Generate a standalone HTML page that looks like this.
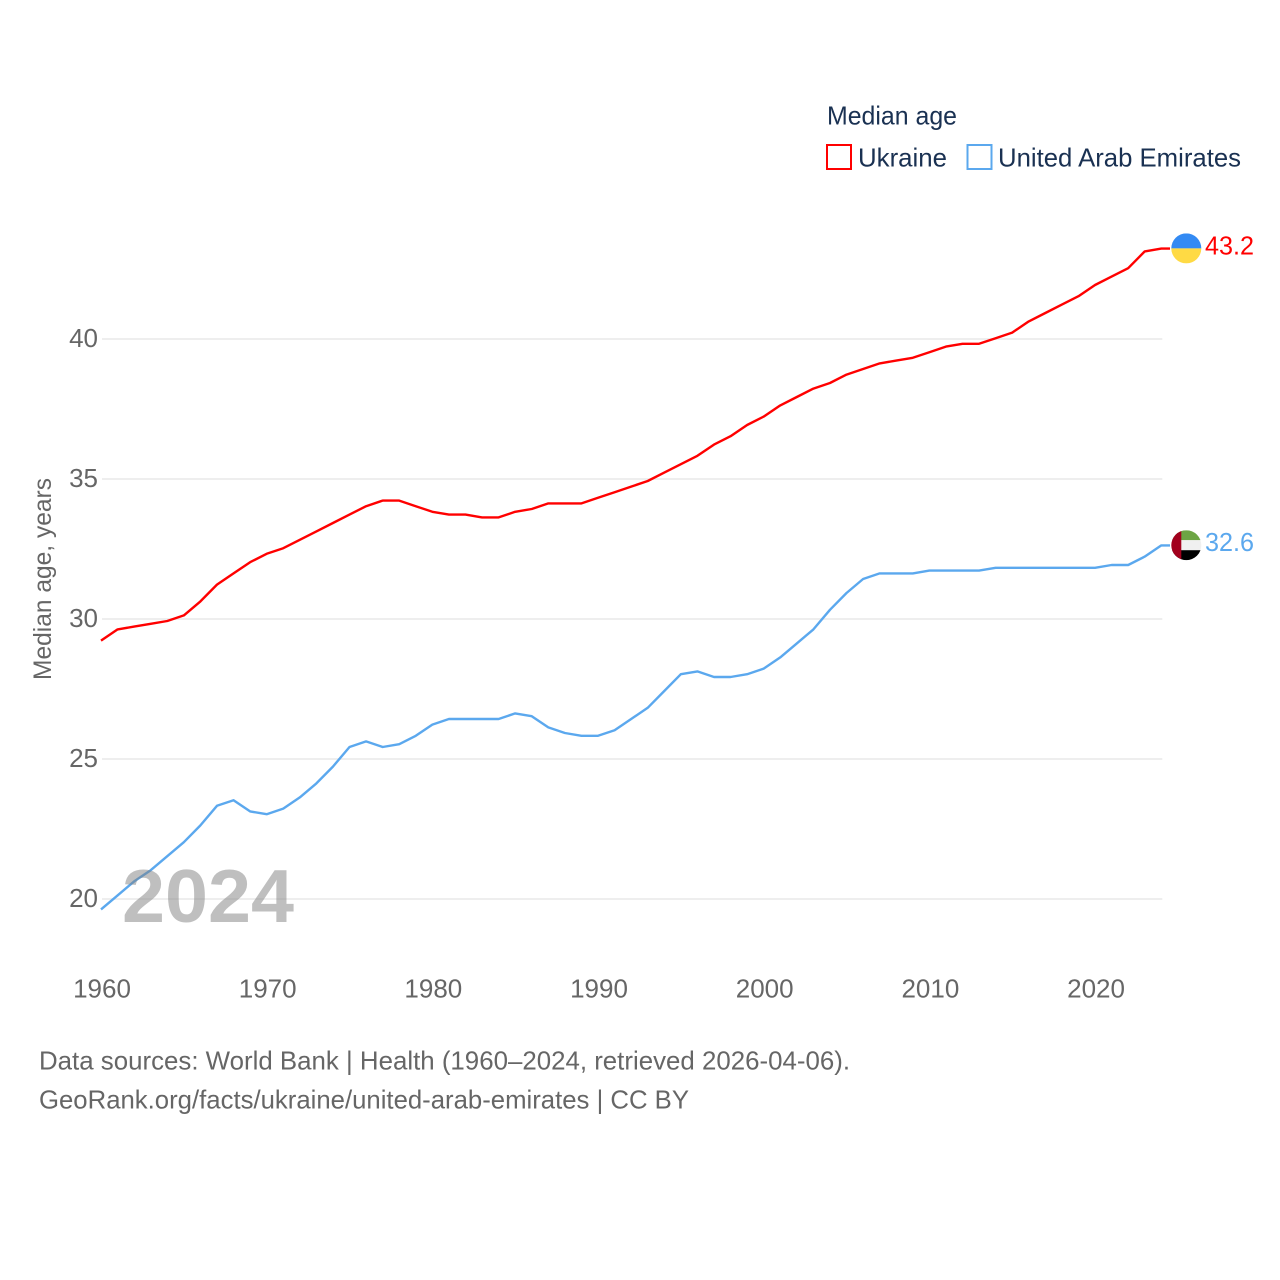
<!DOCTYPE html>
<html lang="en">
<head>
<meta charset="utf-8">
<title>Median age: Ukraine and United Arab Emirates</title>
<style>
html,body{margin:0;padding:0;background:#fff;}
svg{display:block;font-family:"Liberation Sans",sans-serif;}
</style>
</head>
<body>
<svg id="chart" xmlns="http://www.w3.org/2000/svg" width="1280" height="1280" viewBox="0 0 1280 1280">
  <rect x="0" y="0" width="1280" height="1280" fill="#ffffff"/>
  <defs>
    <clipPath id="flag-clip-ua"><circle id="clip-ua" cx="1186.3" cy="248" r="15"/></clipPath>
    <clipPath id="flag-clip-ae"><circle id="clip-ae" cx="1186.3" cy="545" r="15"/></clipPath>
  </defs>
  <g id="grid"></g>
  <g id="yticks"></g>
  <g id="xticks"></g>
  <g id="lines" transform="translate(-1,-0.8)"></g>
  <g id="ends"></g>

  <text transform="translate(51,579) rotate(-90)" text-anchor="middle" font-size="25" fill="#666666" textLength="202" lengthAdjust="spacingAndGlyphs">Median age, years</text>

  <text x="122" y="922" font-size="75" font-weight="bold" fill="rgba(128,128,128,0.5)" textLength="172" lengthAdjust="spacingAndGlyphs">2024</text>

  <g>
    <text x="827" y="124.5" font-size="26" fill="#1a3152" textLength="130" lengthAdjust="spacingAndGlyphs">Median age</text>
    <rect x="827" y="145" width="24" height="24" fill="#ffffff" stroke="#ff0000" stroke-width="2"/>
    <text x="858" y="166.5" font-size="26" fill="#1a3152" textLength="89" lengthAdjust="spacingAndGlyphs">Ukraine</text>
    <rect x="967.5" y="145" width="24" height="24" fill="#ffffff" stroke="#5ba8ee" stroke-width="2"/>
    <text x="998" y="166.5" font-size="26" fill="#1a3152" textLength="243" lengthAdjust="spacingAndGlyphs">United Arab Emirates</text>
  </g>

  <text x="39" y="1069.5" font-size="26" fill="#666666" textLength="811" lengthAdjust="spacingAndGlyphs">Data sources: World Bank | Health (1960–2024, retrieved 2026-04-06).</text>
  <text x="39" y="1108.5" font-size="26" fill="#666666" textLength="650" lengthAdjust="spacingAndGlyphs">GeoRank.org/facts/ukraine/united-arab-emirates | CC BY</text>
</svg>
<script>
const years = [1960,1961,1962,1963,1964,1965,1966,1967,1968,1969,1970,1971,1972,1973,1974,1975,1976,1977,1978,1979,1980,1981,1982,1983,1984,1985,1986,1987,1988,1989,1990,1991,1992,1993,1994,1995,1996,1997,1998,1999,2000,2001,2002,2003,2004,2005,2006,2007,2008,2009,2010,2011,2012,2013,2014,2015,2016,2017,2018,2019,2020,2021,2022,2023,2024];
const ukraineValues = [29.2,29.6,29.7,29.8,29.9,30.1,30.6,31.2,31.6,32.0,32.3,32.5,32.8,33.1,33.4,33.7,34.0,34.2,34.2,34.0,33.8,33.7,33.7,33.6,33.6,33.8,33.9,34.1,34.1,34.1,34.3,34.5,34.7,34.9,35.2,35.5,35.8,36.2,36.5,36.9,37.2,37.6,37.9,38.2,38.4,38.7,38.9,39.1,39.2,39.3,39.5,39.7,39.8,39.8,40.0,40.2,40.6,40.9,41.2,41.5,41.9,42.2,42.5,43.1,43.2];
const uaeValues = [19.6,20.1,20.6,21.0,21.5,22.0,22.6,23.3,23.5,23.1,23.0,23.2,23.6,24.1,24.7,25.4,25.6,25.4,25.5,25.8,26.2,26.4,26.4,26.4,26.4,26.6,26.5,26.1,25.9,25.8,25.8,26.0,26.4,26.8,27.4,28.0,28.1,27.9,27.9,28.0,28.2,28.6,29.1,29.6,30.3,30.9,31.4,31.6,31.6,31.6,31.7,31.7,31.7,31.7,31.8,31.8,31.8,31.8,31.8,31.8,31.8,31.9,31.9,32.2,32.6];
const yTickValues = [20,25,30,35,40];
const xTickValues = [1960,1970,1980,1990,2000,2010,2020];

const NS = 'http://www.w3.org/2000/svg';
const xScale = function (year) { return 102 + (year - 1960) * (1060.3 / 64); };
const yScale = function (value) { return 899 - (value - 20) * 28; };
const node = function (parent, tag) {
  const el = document.createElementNS(NS, tag);
  parent.appendChild(el);
  return el;
};

const gridGroup = document.getElementById('grid');
const yTickGroup = document.getElementById('yticks');
yTickValues.forEach(function (tick) {
  const gridLine = node(gridGroup, 'line');
  
  
  gridLine.setAttribute('x1', xScale(1960));
  gridLine.setAttribute('x2', xScale(2024));
  gridLine.setAttribute('y1', yScale(tick));
  gridLine.setAttribute('y2', yScale(tick));
  gridLine.setAttribute('stroke', '#eeeeee');
  gridLine.setAttribute('stroke-width', '2');

  const label = node(yTickGroup, 'text');
  
  
  label.setAttribute('x', 98);
  label.setAttribute('y', yScale(tick) + 8);
  label.setAttribute('text-anchor', 'end');
  label.setAttribute('font-size', '26');
  label.setAttribute('fill', '#666666');
  label.textContent = tick;
});

const xTickGroup = document.getElementById('xticks');
xTickValues.forEach(function (tick) {
  const label = node(xTickGroup, 'text');
  
  
  label.setAttribute('x', xScale(tick));
  label.setAttribute('y', 997.5);
  label.setAttribute('text-anchor', 'middle');
  label.setAttribute('font-size', '26');
  label.setAttribute('fill', '#666666');
  label.textContent = tick;
});

const drawLine = function (values, color, name) {
  const points = values.map(function (v, i) {
    return xScale(years[i]).toFixed(2) + ',' + yScale(v).toFixed(2);
  });
  points.push('1171,' + yScale(values[values.length - 1]).toFixed(2));
  const line = node(document.getElementById('lines'), 'polyline');
  
  
  line.setAttribute('points', points.join(' '));
  line.setAttribute('fill', 'none');
  line.setAttribute('stroke', color);
  line.setAttribute('stroke-width', '2.4');
  line.setAttribute('stroke-linejoin', 'round');
};
drawLine(ukraineValues, '#ff0000', 'line-ukraine');
drawLine(uaeValues, '#5ba8ee', 'line-uae');

const endsGroup = document.getElementById('ends');
const band = function (parent, clip, x, y, w, h, fill, name) {
  const r = node(parent, 'rect');
  
  
  r.setAttribute('x', x);
  r.setAttribute('y', y);
  r.setAttribute('width', w);
  r.setAttribute('height', h);
  r.setAttribute('fill', fill);
  r.setAttribute('clip-path', 'url(#' + clip + ')');
};

const uaCy = yScale(ukraineValues[ukraineValues.length - 1]) - 1;
const aeCy = yScale(uaeValues[uaeValues.length - 1]) - 1;
document.getElementById('clip-ua').setAttribute('cy', uaCy);
document.getElementById('clip-ae').setAttribute('cy', aeCy);

const uaFlag = node(endsGroup, 'g');


band(uaFlag, 'flag-clip-ua', 1171, uaCy - 15, 31, 15, '#338af3', 'flag-ukraine-blue');
band(uaFlag, 'flag-clip-ua', 1171, uaCy, 31, 15, '#ffda44', 'flag-ukraine-yellow');

const aeFlag = node(endsGroup, 'g');


band(aeFlag, 'flag-clip-ae', 1171, aeCy - 15, 31, 10, '#6da544', 'flag-uae-green');
band(aeFlag, 'flag-clip-ae', 1171, aeCy - 5, 31, 10, '#f0f0f0', 'flag-uae-white');
band(aeFlag, 'flag-clip-ae', 1171, aeCy + 5, 31, 10, '#000000', 'flag-uae-black');
band(aeFlag, 'flag-clip-ae', 1171, aeCy - 15, 10.3, 30, '#a2001d', 'flag-uae-red');

const valueLabel = function (values, color, name) {
  const last = values[values.length - 1];
  const t = node(endsGroup, 'text');
  
  
  t.setAttribute('x', 1205);
  t.setAttribute('y', yScale(last) + 5);
  t.setAttribute('font-size', '26');
  t.setAttribute('fill', color);
  t.setAttribute('textLength', '49');
  t.setAttribute('lengthAdjust', 'spacingAndGlyphs');
  t.textContent = last.toFixed(1);
};
valueLabel(ukraineValues, '#ff0000', 'value-label-ukraine');
valueLabel(uaeValues, '#5ba8ee', 'value-label-uae');
</script>
</body>
</html>
